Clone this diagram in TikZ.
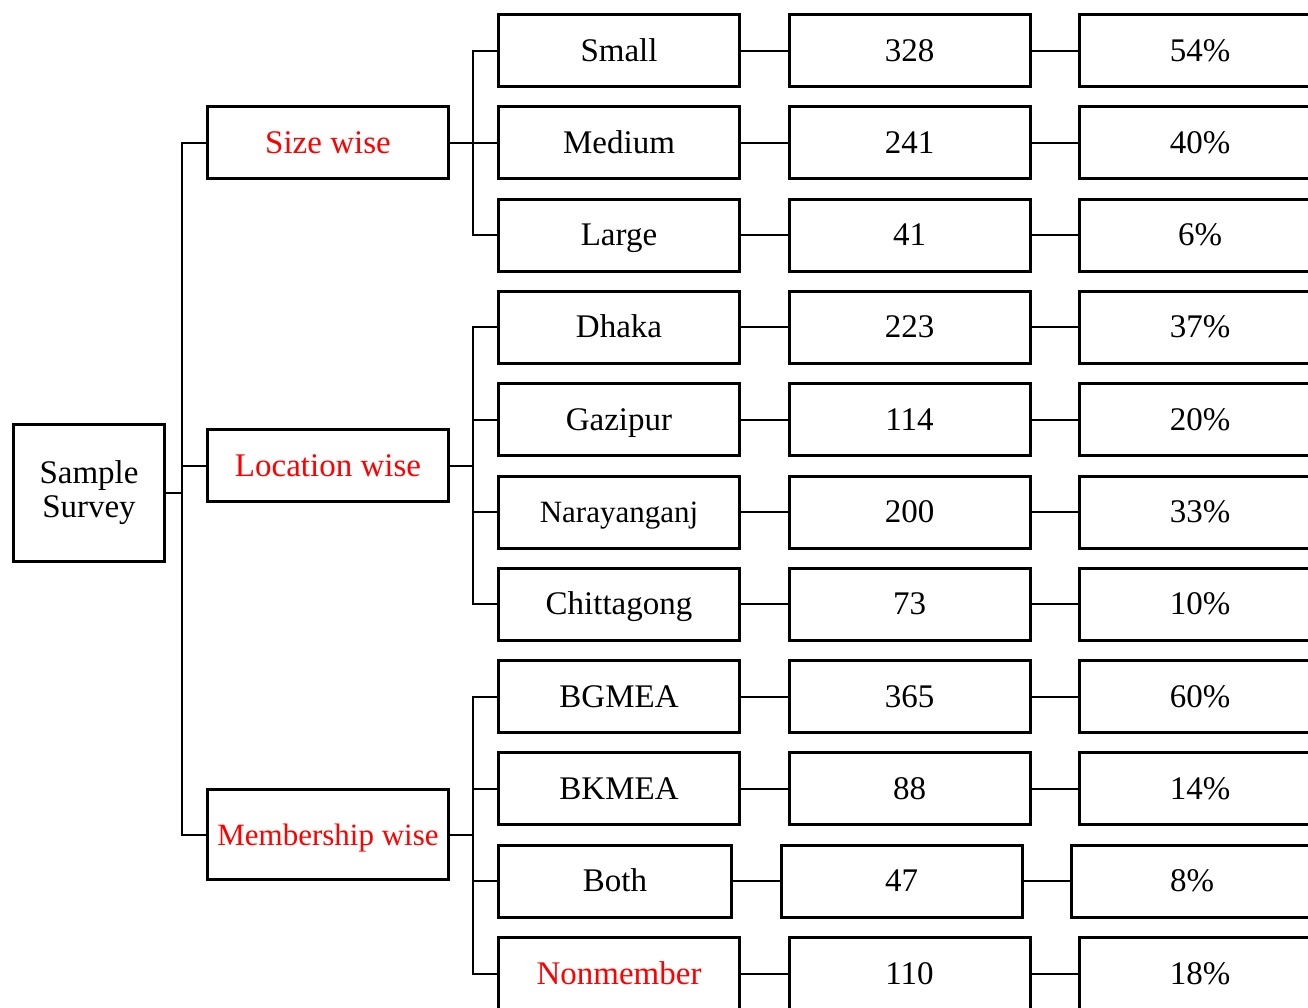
\documentclass[tikz,border=0pt]{standalone}
\usepackage{fontspec}
\setmainfont{Liberation Serif}
\begin{document}
\begin{tikzpicture}[x=1pt,y=-1pt,
  box/.style={draw,line width=3pt,rectangle,minimum height=72pt,inner sep=0pt,
    text height=22pt,text depth=1pt,
    font=\fontsize{33pt}{36pt}\selectfont},
  wbox/.style={box,minimum width=241pt},
  cat/.style={box,minimum width=241pt,text=red},
  link/.style={line width=2pt}]
\useasboundingbox (0,0) rectangle (1308,1007);
\clip (0,0) rectangle (1308,1007);
% root
\node[draw,line width=3pt,rectangle,inner sep=0pt,minimum width=151pt,minimum height=137pt,align=center,
  font=\fontsize{33pt}{34pt}\selectfont] (root) at (89,493) {\raisebox{-3pt}{Sample}\\\raisebox{-3pt}{Survey}};
% categories
\node[cat] (size) at (328,142.5) {Size wise};
\node[cat] (loc) at (328,465.5) {Location wise};
\node[cat,minimum height=90pt,font=\fontsize{31pt}{34pt}\selectfont] (mem) at (328,834.5) {Membership wise};
% rows
\node[wbox] (small) at (619,50.5) {Small};
\node[wbox] (small3) at (909.5,50.5) {328};
\node[wbox] (small4) at (1200,50.5) {54\%};
\node[wbox] (medium) at (619,142.8) {Medium};
\node[wbox] (medium3) at (909.5,142.8) {241};
\node[wbox] (medium4) at (1200,142.8) {40\%};
\node[wbox] (large) at (619,235.1) {Large};
\node[wbox] (large3) at (909.5,235.1) {41};
\node[wbox] (large4) at (1200,235.1) {6\%};
\node[wbox] (dhaka) at (619,327.4) {Dhaka};
\node[wbox] (dhaka3) at (909.5,327.4) {223};
\node[wbox] (dhaka4) at (1200,327.4) {37\%};
\node[wbox] (gazi) at (619,419.7) {Gazipur};
\node[wbox] (gazi3) at (909.5,419.7) {114};
\node[wbox] (gazi4) at (1200,419.7) {20\%};
\node[wbox,font=\fontsize{31pt}{34pt}\selectfont] (nara) at (619,512) {Narayanganj};
\node[wbox] (nara3) at (909.5,512) {200};
\node[wbox] (nara4) at (1200,512) {33\%};
\node[wbox] (chit) at (619,604.3) {Chittagong};
\node[wbox] (chit3) at (909.5,604.3) {73};
\node[wbox] (chit4) at (1200,604.3) {10\%};
\node[wbox] (bgmea) at (619,696.6) {BGMEA};
\node[wbox] (bgmea3) at (909.5,696.6) {365};
\node[wbox] (bgmea4) at (1200,696.6) {60\%};
\node[wbox] (bkmea) at (619,788.9) {BKMEA};
\node[wbox] (bkmea3) at (909.5,788.9) {88};
\node[wbox] (bkmea4) at (1200,788.9) {14\%};
\node[box,minimum width=233pt] (both) at (615,881.2) {Both};
\node[wbox] (both3) at (901.5,881.2) {47};
\node[wbox] (both4) at (1192,881.2) {8\%};
\node[wbox,text=red] (non) at (619,973.5) {Nonmember};
\node[wbox] (non3) at (909.5,973.5) {110};
\node[wbox] (non4) at (1200,973.5) {18\%};
% spines
\coordinate (s0) at (182,0);
\coordinate (s1) at (473,0);
\draw[link] (root.east) -- (root.east -| s0);
\draw[link] (size.west) -- (size.west -| s0) -- (mem.west -| s0) -- (mem.west);
\draw[link] (loc.west) -- (loc.west -| s0);
% size branch
\draw[link] (size.east) -- (size.east -| s1);
\draw[link] (small.west) -- (small.west -| s1) -- (large.west -| s1) -- (large.west);
\draw[link] (medium.west) -- (medium.west -| s1);
% location branch
\draw[link] (loc.east) -- (loc.east -| s1);
\draw[link] (dhaka.west) -- (dhaka.west -| s1) -- (chit.west -| s1) -- (chit.west);
\draw[link] (gazi.west) -- (gazi.west -| s1);
\draw[link] (nara.west) -- (nara.west -| s1);
% membership branch
\draw[link] (mem.east) -- (mem.east -| s1);
\draw[link] (bgmea.west) -- (bgmea.west -| s1) -- (non.west -| s1) -- (non.west);
\draw[link] (bkmea.west) -- (bkmea.west -| s1);
\draw[link] (both.west) -- (both.west -| s1);
% row links
\foreach \n in {small,medium,large,dhaka,gazi,nara,chit,bgmea,bkmea,both,non}{
  \draw[link] (\n.east) -- (\n3.west);
  \draw[link] (\n3.east) -- (\n4.west);
}
\end{tikzpicture}
\end{document}
